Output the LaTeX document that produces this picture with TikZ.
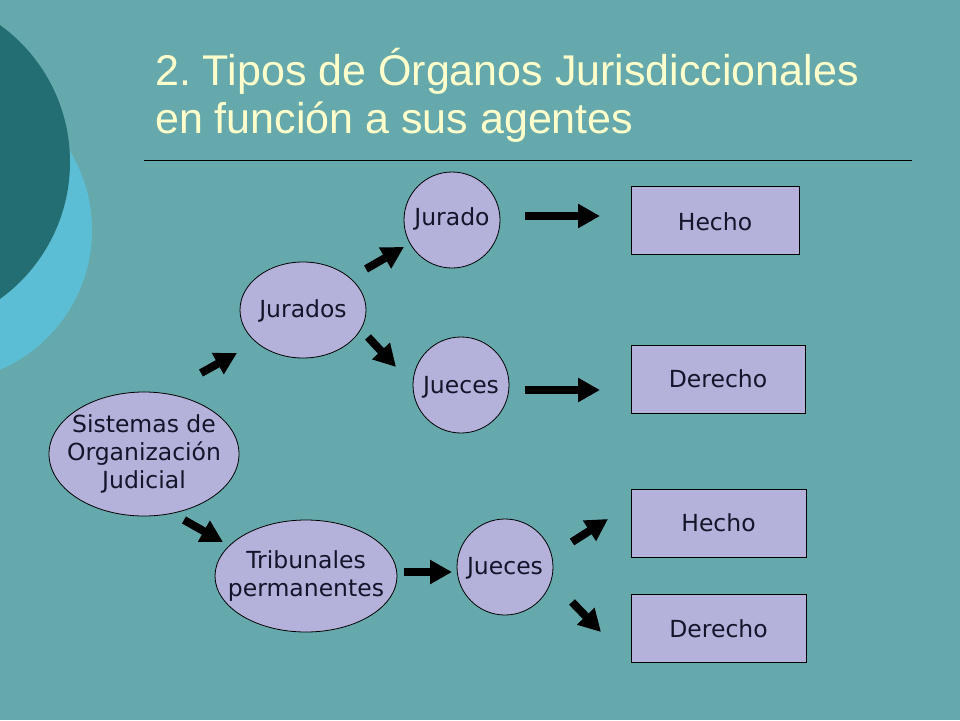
\documentclass[tikz,border=0pt]{standalone}
\usepackage{fontspec}
\setmainfont{DejaVu Sans}
\newfontfamily\titlefont{Liberation Sans}
\usetikzlibrary{arrows.meta,shapes.geometric}
\frenchspacing
\definecolor{bgteal}{HTML}{66A9AD}
\definecolor{darkteal}{HTML}{236E73}
\definecolor{lightblue}{HTML}{5BBED4}
\definecolor{lavender}{HTML}{B4B2DA}
\definecolor{titleyellow}{HTML}{FFFFCC}
\definecolor{textdark}{HTML}{14142A}
\tikzset{
  labelfont/.style={font=\fontsize{23.5}{28}\selectfont},
  oval/.style={ellipse, draw=black, line width=0.8pt, fill=lavender, inner sep=0pt},
  roundnode/.style={circle, draw=black, line width=0.8pt, fill=lavender, inner sep=0pt,
    minimum size=96pt},
  boxnode/.style={rectangle, draw=black, line width=0.8pt, fill=lavender, inner sep=0pt},
  nodelabel/.style={text=textdark, inner sep=0pt, align=center, labelfont},
  blockarrow/.style={line width=8pt, black, -{Triangle[width=23pt,length=22pt]}},
  titletext/.style={anchor=base west, inner sep=0pt, text=titleyellow,
    font=\titlefont\fontsize{43}{48}\selectfont}
}
\begin{document}
\begin{tikzpicture}[x=1pt,y=-1pt]
\fill[bgteal] (0,0) rectangle (960,720);
\useasboundingbox (0,0) rectangle (960,720);
% decorative circles
\fill[lightblue] (-60,230) circle[radius=152];
\fill[darkteal] (-99,162) circle[radius=169];
% title
\node[titletext] (title1) at (155,85) {2. Tipos de Órganos Jurisdiccionales};
\node[titletext] (title2) at (155,133) {en función a sus agentes};
\draw[line width=0.8pt, black] (144,160) coordinate (rulel) -- (912,160) coordinate (ruler);
% nodes
\node[oval, minimum width=190pt, minimum height=124pt] (sistemas) at (144,454) {};
\node[nodelabel] (sistemaslbl) at (144,454) {Sistemas de\\Organización\\Judicial};
\node[oval, minimum width=182pt, minimum height=112pt] (tribunales) at (306,576) {};
\node[nodelabel] (tribunaleslbl) at (306,576) {Tribunales\\permanentes};
\node[oval, minimum width=126pt, minimum height=96pt] (jurados) at (303,310) {};
\node[nodelabel] (juradoslbl) at (303,311) {Jurados};
\node[roundnode] (jurado) at (452,220) {};
\node[nodelabel] (juradolbl) at (452,219) {Jurado};
\node[roundnode] (juecesA) at (461,385) {};
\node[nodelabel] (juecesAlbl) at (461,387) {Jueces};
\node[roundnode] (juecesB) at (505,567) {};
\node[nodelabel] (juecesBlbl) at (505,568) {Jueces};
\node[boxnode, minimum width=168pt, minimum height=68pt] (hechoA) at (715,220) {};
\node[nodelabel] (hechoAlbl) at (715,222) {Hecho};
\node[boxnode, minimum width=174pt, minimum height=68pt] (derechoA) at (718,379) {};
\node[nodelabel] (derechoAlbl) at (718,379) {Derecho};
\node[boxnode, minimum width=175pt, minimum height=68pt] (hechoB) at (718.5,523) {};
\node[nodelabel] (hechoBlbl) at (718.5,523) {Hecho};
\node[boxnode, minimum width=175pt, minimum height=68pt] (derechoB) at (718.5,628) {};
\node[nodelabel] (derechoBlbl) at (718.5,629) {Derecho};
% arrow end points
\coordinate (a1s) at (201,373); \coordinate (a1e) at (237,353);
\coordinate (a2s) at (184,520); \coordinate (a2e) at (223,542);
\coordinate (a3s) at (366,269); \coordinate (a3e) at (404,247);
\coordinate (a4s) at (368,337); \coordinate (a4e) at (396,367);
\coordinate (a5s) at (525,216); \coordinate (a5e) at (600,216);
\coordinate (a6s) at (525,390); \coordinate (a6e) at (600,390);
\coordinate (a7s) at (404,572); \coordinate (a7e) at (452,572);
\coordinate (a8s) at (572,542); \coordinate (a8e) at (608,519);
\coordinate (a9s) at (572,602); \coordinate (a9e) at (601,632);
\draw[blockarrow] (a1s) -- (a1e);
\draw[blockarrow] (a2s) -- (a2e);
\draw[blockarrow] (a3s) -- (a3e);
\draw[blockarrow] (a4s) -- (a4e);
\draw[blockarrow] (a5s) -- (a5e);
\draw[blockarrow] (a6s) -- (a6e);
\draw[blockarrow] (a7s) -- (a7e);
\draw[blockarrow] (a8s) -- (a8e);
\draw[blockarrow] (a9s) -- (a9e);
\end{tikzpicture}
\end{document}
